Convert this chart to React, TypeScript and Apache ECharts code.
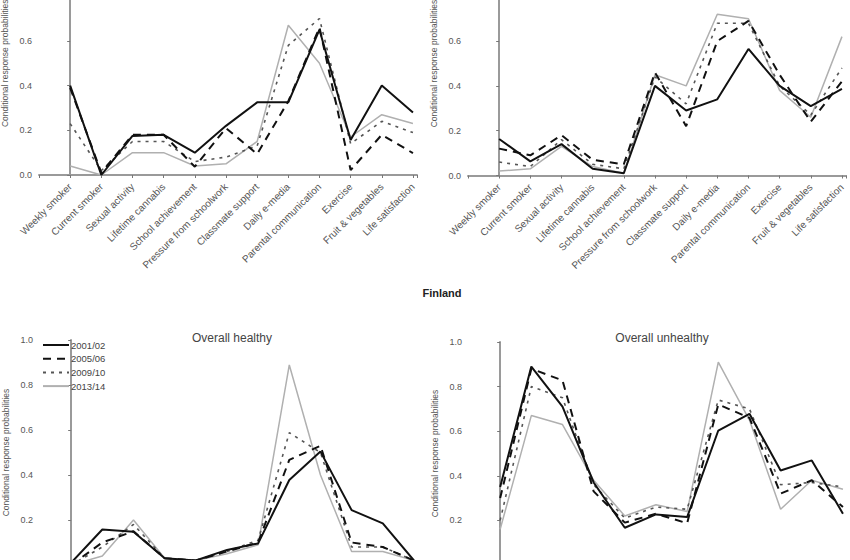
import React, { useEffect, useRef } from "react";
import * as echarts from "echarts";

const categories = [
  "Weekly smoker",
  "Current smoker",
  "Sexual activity",
  "Lifetime cannabis",
  "School achievement",
  "Pressure from schoolwork",
  "Classmate support",
  "Daily e-media",
  "Parental communication",
  "Exercise",
  "Fruit & vegetables",
  "Life satisfaction",
];

const years = ["2001/02", "2005/06", "2009/10", "2013/14"];

// Panel 1 (top left, title cropped)
const p1_2001 = [0.40, 0.0, 0.175, 0.18, 0.10, 0.22, 0.325, 0.325, 0.65, 0.157, 0.40, 0.28];
const p1_2005 = [0.39, 0.01, 0.18, 0.18, 0.037, 0.21, 0.094, 0.33, 0.66, 0.022, 0.18, 0.098];
const p1_2009 = [0.23, 0.02, 0.15, 0.15, 0.06, 0.08, 0.13, 0.58, 0.70, 0.14, 0.24, 0.19];
const p1_2013 = [0.04, 0.0, 0.10, 0.10, 0.04, 0.05, 0.15, 0.67, 0.50, 0.17, 0.27, 0.23];

// Panel 2 (top right, title cropped)
const p2_2001 = [0.163, 0.063, 0.14, 0.03, 0.01, 0.40, 0.29, 0.34, 0.565, 0.40, 0.31, 0.387];
const p2_2005 = [0.12, 0.09, 0.18, 0.07, 0.05, 0.46, 0.22, 0.60, 0.69, 0.45, 0.24, 0.42];
const p2_2009 = [0.06, 0.04, 0.16, 0.05, 0.03, 0.44, 0.32, 0.68, 0.68, 0.40, 0.27, 0.48];
const p2_2013 = [0.02, 0.03, 0.13, 0.04, 0.01, 0.45, 0.40, 0.72, 0.70, 0.38, 0.26, 0.62];

// Panel 3: Overall healthy
const p3_2001 = [0.01, 0.158, 0.148, 0.03, 0.02, 0.067, 0.096, 0.378, 0.504, 0.244, 0.185, 0.02];
const p3_2005 = [0.0, 0.10, 0.15, 0.03, 0.02, 0.06, 0.10, 0.467, 0.53, 0.10, 0.08, 0.02];
const p3_2009 = [0.0, 0.08, 0.18, 0.03, 0.02, 0.06, 0.11, 0.588, 0.50, 0.08, 0.08, 0.02];
const p3_2013 = [0.0, 0.04, 0.20, 0.03, 0.02, 0.05, 0.09, 0.889, 0.40, 0.06, 0.06, 0.02];

// Panel 4: Overall unhealthy
const p4_2001 = [0.35, 0.89, 0.71, 0.37, 0.167, 0.227, 0.215, 0.603, 0.678, 0.424, 0.469, 0.23];
const p4_2005 = [0.30, 0.88, 0.828, 0.33, 0.19, 0.23, 0.187, 0.72, 0.66, 0.32, 0.38, 0.26];
const p4_2009 = [0.20, 0.80, 0.75, 0.36, 0.21, 0.26, 0.25, 0.74, 0.70, 0.36, 0.37, 0.35];
const p4_2013 = [0.16, 0.67, 0.63, 0.38, 0.22, 0.27, 0.24, 0.91, 0.65, 0.25, 0.38, 0.34];

const panels = [
  [p1_2001, p1_2005, p1_2009, p1_2013],
  [p2_2001, p2_2005, p2_2009, p2_2013],
  [p3_2001, p3_2005, p3_2009, p3_2013],
  [p4_2001, p4_2005, p4_2009, p4_2013],
];

const styles = [
  { color: "#111111", width: 2, type: "solid" as any },
  { color: "#111111", width: 2, type: [8, 6] as any },
  { color: "#555555", width: 1.6, type: [3, 5] as any },
  { color: "#b0b0b0", width: 1.5, type: "solid" as any },
];

const FONT = "Liberation Sans, Arial, sans-serif";

export default function App() {
  const ref = useRef<HTMLDivElement>(null);
  useEffect(() => {
    if (!ref.current) return;
    const chart = echarts.init(ref.current, undefined, { renderer: "svg" });
    const grids = [
      { left: 39, top: -48.5, width: 378, height: 223.5, outerBoundsMode: "none", containLabel: false },
      { left: 468, top: -48.5, width: 378, height: 224, outerBoundsMode: "none", containLabel: false },
      { left: 40, top: 340, width: 378, height: 225, outerBoundsMode: "none", containLabel: false },
      { left: 469, top: 342, width: 378, height: 223, outerBoundsMode: "none", containLabel: false },
    ];
    const axisColor = "#9a9a9a";
    const xAxes = grids.map((_, i) => ({
      type: "value",
      gridIndex: i,
      min: -1,
      max: 11.13,
      interval: 1,
      splitLine: { show: false },
      axisLine: { show: true, lineStyle: { color: axisColor, width: 2 } },
      axisTick: { show: true, length: 3, lineStyle: { color: "#777", width: 1 } },
      axisLabel: {
        show: i < 2,
        rotate: 45,
        fontSize: 10,
        color: "#555",
        fontFamily: FONT,
        margin: 10,
        formatter: (v: number) => categories[v] ?? "",
      },
    }));
    const yAxes = grids.map((_, i) => ({
      type: "value",
      gridIndex: i,
      min: 0,
      max: 1,
      interval: 0.2,
      splitLine: { show: false },
      axisLine: { show: true, lineStyle: { color: axisColor, width: 2 } },
      axisTick: { show: true, length: 3, lineStyle: { color: "#777", width: 1 } },
      axisLabel: {
        fontSize: 9,
        color: "#555",
        fontFamily: FONT,
        margin: 7,
        formatter: (v: number) => v.toFixed(1),
      },
      name: "Conditional response probabilities",
      nameLocation: "middle",
      nameGap: 30,
      nameTextStyle: { fontSize: 8.5, color: "#555", fontFamily: FONT },
    }));
    const series: any[] = [];
    panels.forEach((panel, pi) => {
      panel.forEach((vals, si) => {
        series.push({
          type: "line",
          name: years[si],
          xAxisIndex: pi,
          yAxisIndex: pi,
          data: vals.map((v, i) => [i, v]),
          symbol: "none",
          showSymbol: false,
          lineStyle: styles[si],
          itemStyle: { color: styles[si].color },
          z: 10 - si,
        });
      });
    });
    chart.setOption({
      animation: false,
      backgroundColor: "#ffffff",
      textStyle: { fontFamily: FONT },
      title: [
        {
          text: "Finland",
          left: 437,
          top: 282,
          textAlign: "center",
          textStyle: { fontSize: 11, fontWeight: "bold", color: "#222", fontFamily: FONT },
        },
        {
          text: "Overall healthy",
          left: 227,
          top: 327,
          textAlign: "center",
          textStyle: { fontSize: 12, fontWeight: "normal", color: "#444", fontFamily: FONT },
        },
        {
          text: "Overall unhealthy",
          left: 657,
          top: 327,
          textAlign: "center",
          textStyle: { fontSize: 12, fontWeight: "normal", color: "#444", fontFamily: FONT },
        },
      ],
      legend: {
        data: years,
        orient: "vertical",
        left: 42,
        top: 340,
        itemWidth: 26,
        itemHeight: 9,
        itemGap: 3.7,
        padding: 0,
        itemStyle: { opacity: 0 },
        textStyle: { fontSize: 9.5, color: "#444", fontFamily: FONT, padding: [0, 0, 0, -3] },
      },
      grid: grids,
      xAxis: xAxes,
      yAxis: yAxes,
      series,
    });
    return () => chart.dispose();
  }, []);
  return (
    <div
      ref={ref}
      style={{ position: "fixed", left: 0, top: 0, width: 850, height: 560, background: "#fff" }}
    />
  );
}
